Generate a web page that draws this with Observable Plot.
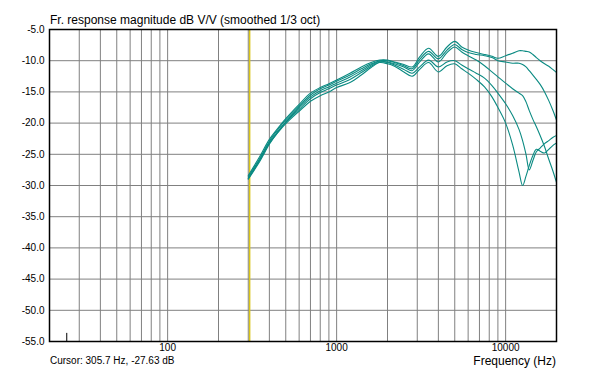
<!DOCTYPE html>
<html><head><meta charset="utf-8">
<script src="https://cdn.jsdelivr.net/npm/d3@7"></script>
<script src="https://cdn.jsdelivr.net/npm/@observablehq/plot@0.6"></script>
<style>
body{margin:0;background:#fff;}
#chart{position:relative;width:604px;height:369px;font-family:"Liberation Sans",Arial,sans-serif;color:#000;}
.lbl{position:absolute;white-space:nowrap;line-height:1;}
</style>
</head><body>
<div id="chart">
  <div class="lbl" id="title" style="left:50px;top:14px;font-size:12px;"></div>
  <div class="lbl" id="cursor" style="left:50px;top:355.5px;font-size:10px;"></div>
  <div class="lbl" id="xlabel" style="right:48px;top:354.5px;font-size:12px;"></div>
</div>
<script>
const titleText = "Fr. response magnitude dB V/V (smoothed 1/3 oct)";
const cursorText = "Cursor: 305.7 Hz, -27.63 dB";
const xLabelText = "Frequency (Hz)";

const freqs = [300,350,400,450,500,600,700,800,900,1000,1200,1400,1600,1800,2000,2200,2500,2800,3100,3500,4000,4500,5000,5500,6000,6700,7500,8300,9000,10000,11000,12000,12600,13200,13800,14500,15200,16000,17000,18000,19000,20000];
const s1 = [-28.4,-25.4,-22.6,-20.8,-19.3,-17.0,-15.2,-14.3,-13.7,-13.1,-12.0,-11.0,-10.3,-9.9,-9.9,-10.2,-10.6,-11.0,-9.4,-8.0,-9.3,-7.8,-6.9,-7.8,-8.3,-8.7,-9.0,-9.3,-9.6,-9.2,-8.8,-8.4,-8.4,-8.5,-8.6,-9.0,-9.5,-10.0,-10.5,-10.9,-11.4,-11.9];
const s2 = [-28.6,-25.7,-22.9,-21.0,-19.5,-17.3,-15.5,-14.5,-13.9,-13.3,-12.3,-11.3,-10.5,-10.0,-10.0,-10.3,-10.8,-11.3,-9.8,-8.5,-9.7,-8.3,-7.4,-8.2,-8.7,-9.0,-9.2,-9.5,-10.0,-10.2,-10.4,-10.4,-10.6,-11.0,-11.6,-12.3,-13.0,-13.8,-15.0,-16.4,-17.9,-19.5];
const s3 = [-28.8,-25.9,-23.1,-21.3,-19.8,-17.5,-15.8,-14.8,-14.2,-13.6,-12.6,-11.6,-10.7,-10.1,-10.2,-10.5,-11.0,-11.6,-10.2,-8.9,-10.2,-8.7,-7.8,-8.6,-9.2,-9.9,-10.8,-11.8,-12.6,-13.6,-14.5,-15.2,-15.6,-16.6,-18.0,-19.4,-20.6,-22.0,-23.8,-25.8,-27.6,-29.5];
const s4 = [-29.0,-26.2,-23.4,-21.4,-19.9,-17.8,-16.1,-15.1,-14.5,-13.9,-13.0,-11.9,-10.9,-10.2,-10.3,-10.7,-11.4,-12.0,-11.0,-9.9,-11.0,-10.2,-10.0,-10.7,-11.3,-12.0,-12.8,-14.0,-15.2,-16.9,-18.8,-21.0,-22.8,-25.0,-27.5,-26.0,-24.6,-24.0,-23.3,-22.8,-22.3,-22.0];
const s5 = [-28.9,-26.0,-23.2,-21.5,-20.1,-18.1,-16.5,-15.6,-15.0,-14.3,-13.5,-12.3,-11.1,-10.3,-10.5,-10.9,-11.8,-12.5,-11.4,-10.3,-11.8,-10.8,-10.5,-11.3,-12.0,-13.0,-14.2,-15.8,-17.5,-20.0,-23.5,-27.8,-30.0,-28.5,-26.8,-25.2,-24.2,-24.5,-24.8,-24.2,-23.6,-23.2];
const seriesNames = ["1","2","3","4","5"];
const seriesValues = [s1,s2,s3,s4,s5];

const yTicks = [-5,-10,-15,-20,-25,-30,-35,-40,-45,-50,-55];
const xTickLabels = [100,1000,10000];
const gridFreqs = [20,30,40,50,60,70,80,90,100,200,300,400,500,600,700,800,900,1000,2000,3000,4000,5000,6000,7000,8000,9000,10000,20000];
const cursorFreq = 305.7;
const markerFreq = 25.3;
const markerRange = [-53.7, -55];

const data = seriesNames.flatMap((name, i) =>
  seriesValues[i].map((v, j) => ({f: freqs[j], db: v, series: name})));

const plot = Plot.plot({
  width: 604, height: 369,
  marginLeft: 49, marginRight: 48, marginTop: 29, marginBottom: 28,
  style: {fontFamily: '"Liberation Sans", Arial, sans-serif', fontSize: "10px", background: "transparent", color: "#000"},
  x: {type: "log", domain: [20, 20000], ticks: xTickLabels, tickFormat: d => String(d), tickSize: 0, tickPadding: 2, label: null},
  y: {domain: [-55, -5], ticks: yTicks, tickFormat: d => d.toFixed(1), tickSize: 0, tickPadding: 5, label: null},
  marks: [
    Plot.ruleX(gridFreqs, {stroke: "#808080", strokeWidth: 1}),
    Plot.ruleY(yTicks, {stroke: "#808080", strokeWidth: 1}),
    Plot.ruleX([cursorFreq], {stroke: "#d8c41a", strokeWidth: 1.5}),
    Plot.line(data, {x: "f", y: "db", z: "series", stroke: "#0a8a82", strokeWidth: 1.1, curve: "catmull-rom", clip: true}),
    Plot.ruleX([markerFreq], {y1: markerRange[0], y2: markerRange[1], stroke: "#000", strokeWidth: 1}),
    Plot.frame({stroke: "#000", strokeWidth: 1.5})
  ]
});
plot.style.position = "absolute";
plot.style.left = "0";
plot.style.top = "0";
document.getElementById("chart").prepend(plot);
document.getElementById("title").textContent = titleText;
document.getElementById("cursor").textContent = cursorText;
document.getElementById("xlabel").textContent = xLabelText;
</script>
</body></html>
